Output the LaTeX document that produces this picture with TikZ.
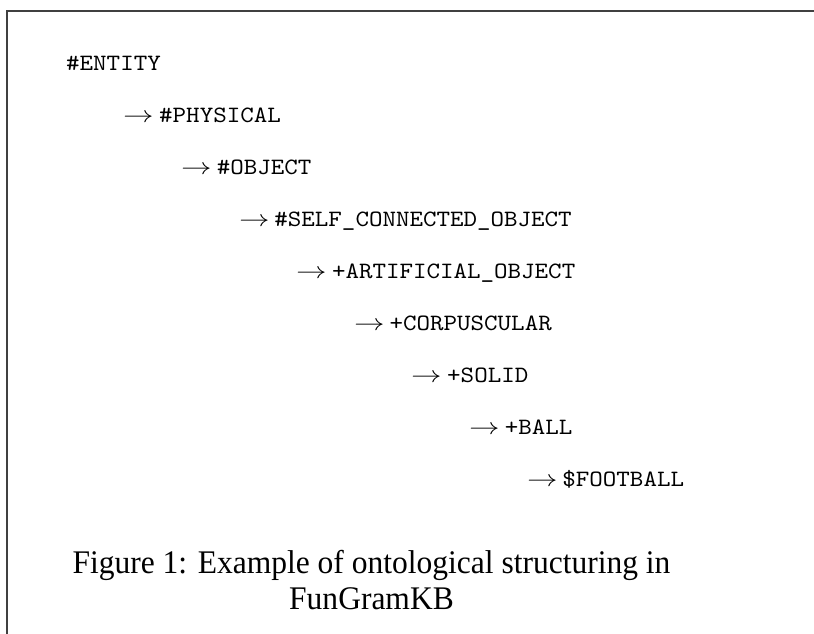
\documentclass[tikz,border=0pt]{standalone}
\usepackage{fontspec}
\usepackage{unicode-math}
\usepackage{graphicx}
\newfontfamily\conceptfont[FakeStretch=1.1]{lmmono10-regular.otf}
\newfontfamily\capfont[FakeStretch=0.955]{Liberation Serif}
\usetikzlibrary{positioning}

\begin{document}
\begin{tikzpicture}[x=1pt, y=-1pt,
    concept/.style={anchor=base west, inner sep=0pt,
      font=\fontsize{23.4}{27}\selectfont\conceptfont},
    captext/.style={anchor=base, inner sep=0pt,
      font=\fontsize{33}{34}\selectfont\capfont}]
  \def\dx{57.6}
  \def\dy{52}
  \newcommand{\isa}{\scalebox{1.3}[1]{$\rightarrow$}\hspace{5pt}}

  \useasboundingbox (0,0) rectangle (814,634);

  % frame
  \coordinate (tr) at (814,11);
  \coordinate (tl) at (7,11);
  \coordinate (bl) at (7,634);
  \draw[line width=1.6pt, black!75] (tr) -- (tl) -- (bl);

  % hierarchy
  \node[concept] (entity)      at (66,70.5)              {\#ENTITY};
  \node[concept] (physical)    at (66+\dx,70.5+\dy)      {\isa\#PHYSICAL};
  \node[concept] (object)      at (66+2*\dx,70.5+2*\dy)  {\isa\#OBJECT};
  \node[concept] (selfconn)    at (66+3*\dx,70.5+3*\dy)  {\isa\#SELF\_CONNECTED\_OBJECT};
  \node[concept] (artificial)  at (66+4*\dx,70.5+4*\dy)  {\isa+ARTIFICIAL\_OBJECT};
  \node[concept] (corpuscular) at (66+5*\dx,70.5+5*\dy)  {\isa+CORPUSCULAR};
  \node[concept] (solid)       at (66+6*\dx,70.5+6*\dy)  {\isa+SOLID};
  \node[concept] (ball)        at (66+7*\dx,70.5+7*\dy)  {\isa+BALL};
  \node[concept] (football)    at (66+8*\dx,70.5+8*\dy)  {\isa\$FOOTBALL};

  % caption
  \node[captext] (caption)  at (371.5,573) {Figure 1: Example of ontological structuring in};
  \node[captext] (captionb) at (371.5,609) {FunGramKB};
\end{tikzpicture}
\end{document}
